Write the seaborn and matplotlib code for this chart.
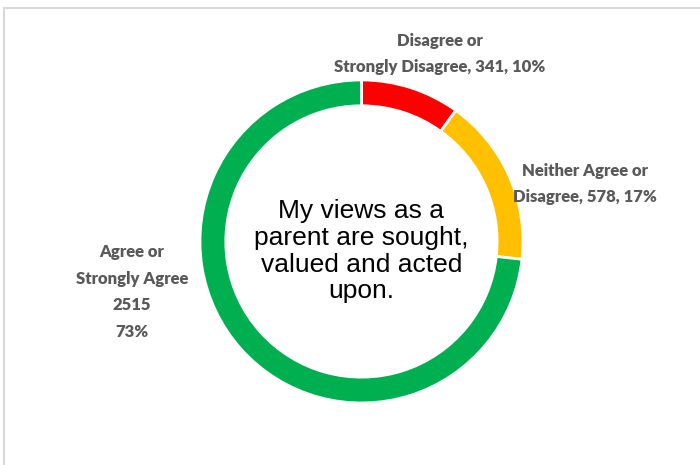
import matplotlib
matplotlib.use("Agg")
import matplotlib.pyplot as plt
from matplotlib.patches import Rectangle
import seaborn as sns

categories = ["Disagree or\nStrongly Disagree", "Neither Agree or\nDisagree", "Agree or\nStrongly Agree"]
counts = [341, 578, 2515]
percents = [10, 17, 73]
colors = ["#FF0000", "#FFC000", "#00B050"]
centre_text = "My views as a\nparent are sought,\nvalued and acted\nupon."

sns.set_theme(style="white")
plt.rcParams["font.family"] = ["Lato", "DejaVu Sans"]

fig = plt.figure(figsize=(7, 4.65), dpi=100)
ax = fig.add_axes([0, 0, 1, 1])
ax.pie(counts, colors=colors, startangle=90, counterclock=False,
       wedgeprops=dict(width=0.16, edgecolor="white", linewidth=2))
ax.set_xlim(-2.238, 2.096)
ax.set_ylim(-1.384, 1.495)
ax.set_aspect("equal")
ax.axis("off")

label_col = "#595959"
labels = [
    f"{categories[0]}, {counts[0]}, {percents[0]}%",
    f"{categories[1]}, {counts[1]}, {percents[1]}%",
    f"{categories[2]}\n{counts[2]}\n{percents[2]}%",
]
positions = [(0.486, 1.161), (1.384, 0.356), (-1.421, -0.313)]
for txt, (x, y) in zip(labels, positions):
    ax.text(x, y, txt, ha="center", va="center", fontsize=12, fontweight="heavy",
            color=label_col, linespacing=1.8)

ax.text(0, -0.06, centre_text, ha="center", va="center", fontsize=19,
        family="Liberation Sans", color="black", linespacing=1.15)

fig.patches.append(Rectangle((4 / 700, -0.1), 1.1, 1 - 8 / 465 + 0.1, transform=fig.transFigure,
                             fill=False, edgecolor="#d9d9d9", linewidth=1.5))

fig.savefig("out.png", dpi=100)
